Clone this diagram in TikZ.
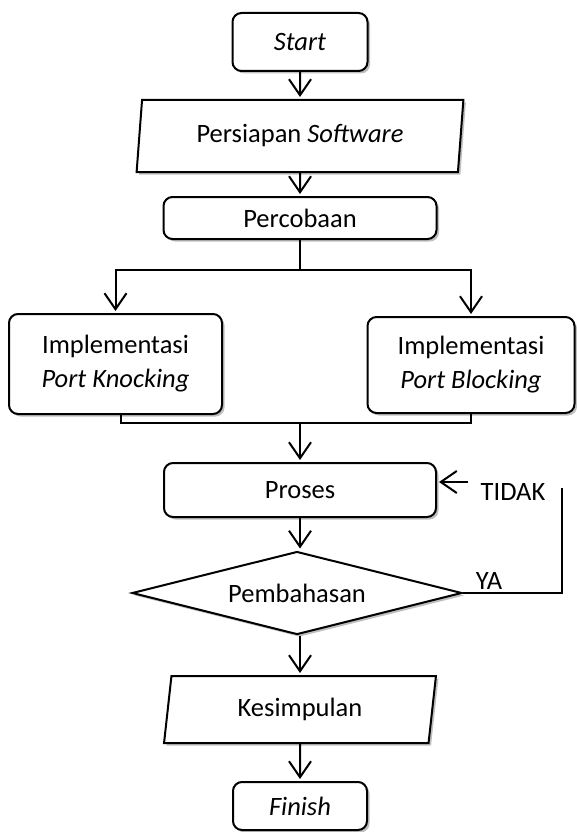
\documentclass[tikz,border=0pt]{standalone}
\usepackage{fontspec}
\setmainfont{Carlito}
\usetikzlibrary{shapes.geometric,arrows.meta,shadows}
\begin{document}
\begin{tikzpicture}[x=1pt,y=-1pt, line width=2pt,
  font=\fontsize{26.5}{34}\selectfont,
  shad/.style={drop shadow={shadow xshift=2.5pt,shadow yshift=-2.5pt,fill=black,opacity=0.25}},
  rbox/.style={draw, rounded corners=9pt, fill=white, inner sep=0pt, align=center, shad},
  para/.style={draw, trapezium, trapezium left angle=81, trapezium right angle=99, trapezium stretches=true, fill=white, inner sep=0pt, shad},
  dia/.style={draw, diamond, aspect=3.94, fill=white, inner sep=0pt, shad},
  arr/.style={-{Straight Barb[length=16pt,width=22pt]}, shorten >=2pt},
]
\useasboundingbox (0,0) rectangle (576,832);

\node[rbox, minimum width=135, minimum height=58] (start) at (300,42) {\itshape Start};
\node[para, minimum width=327, minimum height=72] (soft) at (300,136) {Persiapan \textit{Software}};
\node[rbox, minimum width=273, minimum height=42] (perc) at (300,218) {Percobaan};
\node[rbox, minimum width=213, minimum height=100] (knock) at (115.5,364) {Implementasi\\\textit{Port Knocking}};
\node[rbox, minimum width=207, minimum height=96] (block) at (471,365) {Implementasi\\\textit{Port Blocking}};
\node[rbox, minimum width=272, minimum height=54] (proses) at (300,490) {Proses};
\node[dia, minimum width=330, minimum height=83] (bahas) at (297,593) {Pembahasan};
\node[para, minimum width=272, minimum height=67] (kes) at (300,709.5) {Kesimpulan};
\node[rbox, minimum width=134, minimum height=48] (finish) at (300,806) {\itshape Finish};

\draw[arr] (start.south) -- (soft.north);
\draw[arr] (soft.south) -- (perc.north);
\coordinate (split) at (300,270);
\draw (perc.south) -- (split);
\draw[arr] (split) -| (knock.north);
\draw[arr] (split) -| (block.north);
\coordinate (join) at (300,423);
\draw ([xshift=5.5pt]knock.south) |- (join) -| (block.south);
\draw[arr] (join) -- (proses.north);
\draw[arr] (proses.south) -- (proses.south |- bahas.north);
\coordinate (loop) at (562,488);
\draw (bahas.east) -| (loop);
\node (ya) at (489,580.5) {YA};
\node (tidak) at (513,491.5) {TIDAK};
\coordinate (tidakarr) at (468,482);
\draw[arr] (tidakarr) -- (proses.east |- tidakarr);
\draw[arr] (bahas.south -| kes.north) -- (kes.north);
\draw[arr] (kes.south) -- (finish.north);
\end{tikzpicture}
\end{document}
